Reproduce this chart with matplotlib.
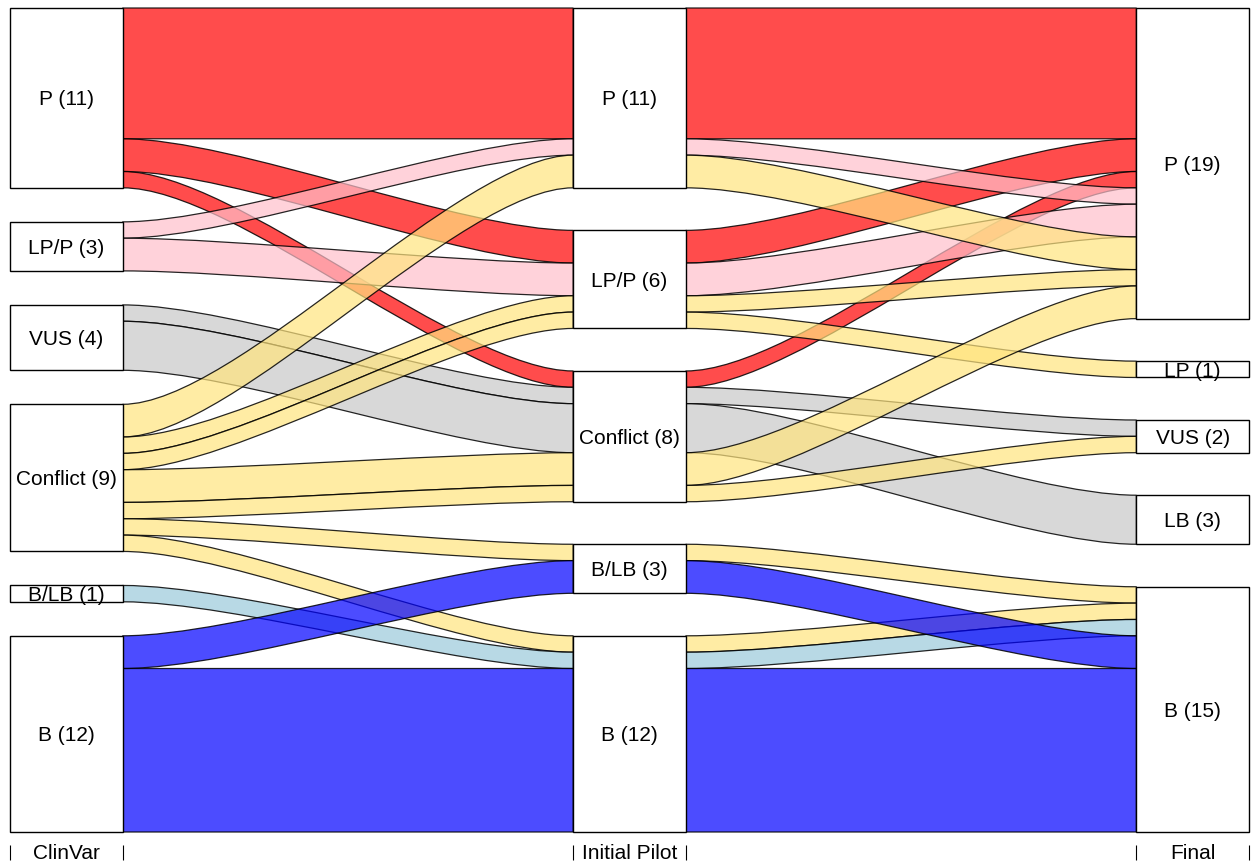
import matplotlib.pyplot as plt
from matplotlib.colors import to_rgba
from matplotlib.path import Path
from matplotlib.patches import PathPatch, Rectangle

plt.rcParams['font.family'] = ['Liberation Sans', 'DejaVu Sans']

# axes and their category order
axis_names = ['ClinVar', 'Initial Pilot', 'Final']
clinvar_levels = ['P', 'LP/P', 'VUS', 'Conflict', 'B/LB', 'B']
initial_levels = ['P', 'LP/P', 'Conflict', 'B/LB', 'B']
final_levels = ['P', 'LP', 'VUS', 'LB', 'B']

# one entry per alluvium
clinvar = ['P', 'P', 'P', 'LP/P', 'LP/P', 'VUS', 'VUS',
           'Conflict', 'Conflict', 'Conflict', 'Conflict', 'Conflict', 'Conflict', 'Conflict',
           'B/LB', 'B', 'B']
initial = ['P', 'LP/P', 'Conflict', 'P', 'LP/P', 'Conflict', 'Conflict',
           'P', 'LP/P', 'LP/P', 'Conflict', 'Conflict', 'B/LB', 'B',
           'B', 'B/LB', 'B']
final = ['P', 'P', 'P', 'P', 'P', 'VUS', 'LB',
         'P', 'P', 'LP', 'P', 'VUS', 'B', 'B',
         'B', 'B', 'B']
counts = [8, 2, 1, 1, 2, 1, 3,
          2, 1, 1, 2, 1, 1, 1,
          1, 2, 10]

fill_colors = {'P': 'red', 'LP/P': 'pink', 'VUS': '#c8c8c8', 'Conflict': '#ffe47e',
               'B/LB': '#9bcadb', 'B': 'blue'}

levels = [clinvar_levels, initial_levels, final_levels]
cols = [clinvar, initial, final]
n = len(counts)
gap_total = 10.4   # total vertical gap per axis, in count units
cw = 0.1           # half width of the boxes
k = 0.25           # curve handle

# stack alluvia within each stratum
positions = []
boxes = []
for a in range(3):
    lv = levels[a]
    gap = gap_total / (len(lv) - 1)
    y = 0
    pos = [None] * n
    for s in lv:
        idx = [i for i in range(n) if cols[a][i] == s]
        idx.sort(key=lambda i: tuple(levels[b].index(cols[b][i]) for b in range(3) if b != a))
        start = y
        total = 0
        for i in idx:
            pos[i] = (y, y + counts[i])
            y += counts[i]
            total += counts[i]
        boxes.append((a, s, start, y, total))
        y += gap
    positions.append(pos)

fig = plt.figure(figsize=(12.53, 8.63), dpi=100)
ax = fig.add_axes([10 / 1253, 31 / 863, 1239 / 1253, 824 / 863])

# ribbons
for i in range(n):
    for j in range(2):
        x0, x1 = j + 1 + cw, j + 2 - cw
        d = x1 - x0
        t0, b0 = positions[j][i]
        t1, b1 = positions[j + 1][i]
        verts = [(x0, t0), (x0 + k * d, t0), (x1 - k * d, t1), (x1, t1),
                 (x1, b1), (x1 - k * d, b1), (x0 + k * d, b0), (x0, b0), (x0, t0)]
        codes = [Path.MOVETO, Path.CURVE4, Path.CURVE4, Path.CURVE4,
                 Path.LINETO, Path.CURVE4, Path.CURVE4, Path.CURVE4, Path.CLOSEPOLY]
        ax.add_patch(PathPatch(Path(verts, codes), facecolor=to_rgba(fill_colors[clinvar[i]], 0.7),
                               edgecolor=(0, 0, 0, 0.85), lw=0.9, clip_on=False))

# strata boxes
for a, s, top, bottom, total in boxes:
    ax.add_patch(Rectangle((a + 1 - cw, top), 2 * cw, bottom - top, facecolor='white',
                           edgecolor='black', lw=1, zorder=3, clip_on=False))
    ax.text(a + 1, (top + bottom) / 2 + 0.12, f'{s} ({total})', ha='center',
            va='center', fontsize=15, zorder=4)

ax.set_xlim(0.9, 3.1)
ax.set_ylim(40 + gap_total, 0)
for side in ['top', 'left', 'right', 'bottom']:
    ax.spines[side].set_visible(False)
ax.spines['bottom'].set_position(('outward', 9.4))
ax.set_yticks([])
ax.set_xticks([x + o for x in (1, 2, 3) for o in (-cw, cw)])
ax.set_xticklabels([])
ax.tick_params(axis='x', direction='out', length=10.8, width=0.8)
for x, name in zip((1, 2, 3), axis_names):
    ax.text(x, -0.0255, name, transform=ax.get_xaxis_transform(), ha='center',
            va='center', fontsize=15)

fig.savefig('out.png', dpi=100)
